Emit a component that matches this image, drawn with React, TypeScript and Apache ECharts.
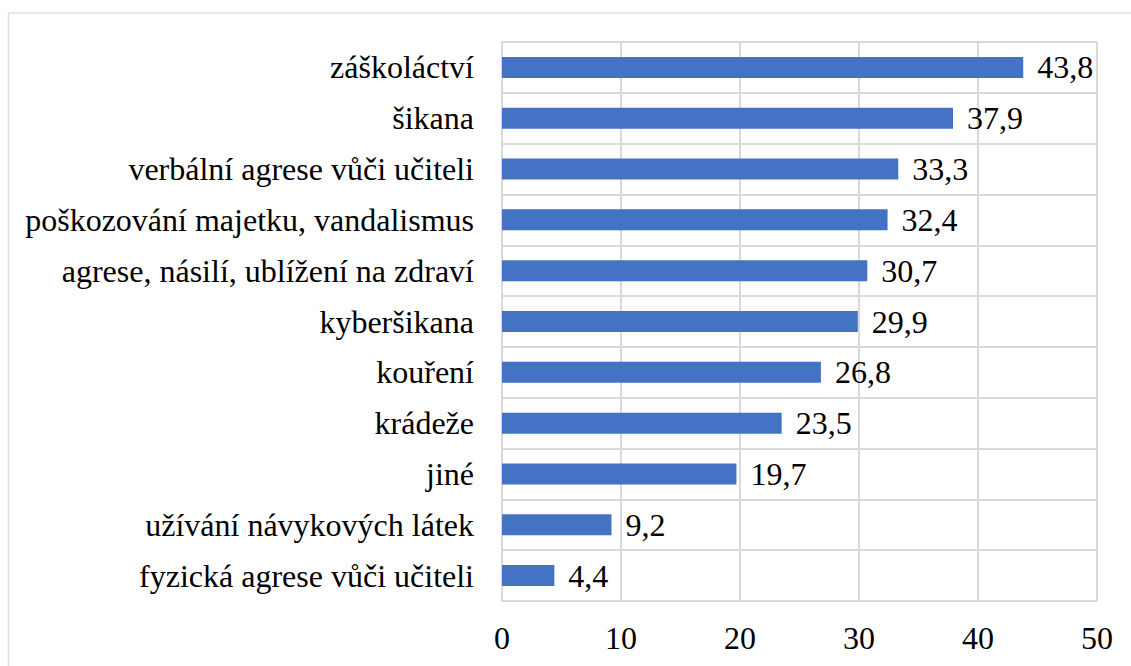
import React, { useEffect, useRef } from "react";
import * as echarts from "echarts";

const categories = [
  "záškoláctví",
  "šikana",
  "verbální agrese vůči učiteli",
  "poškozování majetku, vandalismus",
  "agrese, násilí, ublížení na zdraví",
  "kyberšikana",
  "kouření",
  "krádeže",
  "jiné",
  "užívání návykových látek",
  "fyzická agrese vůči učiteli",
];
const values = [43.8, 37.9, 33.3, 32.4, 30.7, 29.9, 26.8, 23.5, 19.7, 9.2, 4.4];
const xTicks = { min: 0, max: 50, interval: 10 };

const FONT = "Liberation Serif";
const GRID = "#d9d9d9";

export default function App() {
  const ref = useRef<HTMLDivElement>(null);
  useEffect(() => {
    if (!ref.current) return;
    const chart = echarts.init(ref.current, undefined, { renderer: "svg" });
    chart.setOption({
      animation: false,
      backgroundColor: "#ffffff",
      textStyle: { fontFamily: FONT },
      graphic: [
        {
          type: "rect",
          shape: { x: 8.5, y: 13, width: 1300, height: 900 },
          style: { fill: "none", stroke: "#e0e0e0", lineWidth: 1.5 },
          silent: true,
          z: -1,
        },
      ],
      grid: { left: 502, right: 34, top: 42, bottom: 65, containLabel: false },
      xAxis: {
        type: "value",
        min: xTicks.min,
        max: xTicks.max,
        interval: xTicks.interval,
        axisLine: { show: false },
        axisTick: { show: false },
        splitLine: { show: true, lineStyle: { color: GRID, width: 2 } },
        axisLabel: {
          color: "#000",
          fontSize: 32,
          fontFamily: FONT,
          margin: 21,
          formatter: (v: number) => String(v),
        },
      },
      yAxis: {
        type: "category",
        data: categories,
        inverse: true,
        axisLine: { show: true, lineStyle: { color: GRID, width: 2 } },
        axisTick: { show: false },
        splitLine: { show: true, interval: 0, lineStyle: { color: GRID, width: 2 } },
        axisLabel: {
          color: "#000",
          fontSize: 32,
          fontFamily: FONT,
          margin: 28,
          interval: 0,
        },
      },
      series: [
        {
          type: "bar",
          data: values,
          barWidth: 21,
          itemStyle: { color: "#4472c4" },
          label: {
            show: true,
            position: "right",
            distance: 14,
            color: "#000",
            fontSize: 32,
            fontFamily: FONT,
            formatter: (p: any) => String(p.value).replace(".", ","),
          },
        },
      ],
    });
    return () => chart.dispose();
  }, []);
  return (
    <div
      ref={ref}
      style={{ position: "absolute", left: 0, top: 0, width: 1131, height: 666 }}
    />
  );
}
